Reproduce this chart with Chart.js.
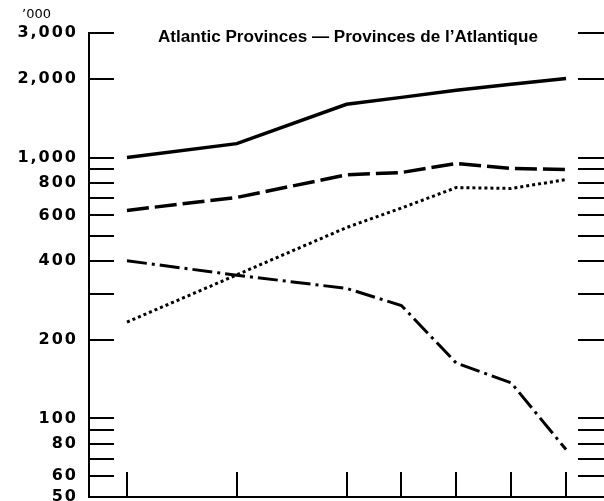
<!DOCTYPE html>
<html>
<head>
<meta charset="UTF-8">
<script src="https://cdn.jsdelivr.net/npm/chart.js@4.4.0/dist/chart.umd.min.js"></script>
<style>
    body { margin: 0; background: #fff; }
    canvas { display: block; }
</style>
</head>
<body>
<canvas id="myChart" width="604" height="501"></canvas>

<script>
    // census years along the bottom
    var years = [1931, 1941, 1951, 1956, 1961, 1966, 1971];

    // thousands
    var solidLine   = [1000, 1130, 1600, 1700, 1810, 1910, 2010];
    var dashedLine  = [627, 703, 858, 876, 948, 908, 900];
    var dottedLine  = [234, 355, 539, 640, 767, 761, 823];
    var dashDotLine = [402, 354, 315, 271, 163, 137, 76];

    var yTicks = [3000, 2000, 1000, 900, 800, 700, 600, 500, 400, 300, 200, 100, 90, 80, 70, 60, 50];
    var yLabels = {3000: '3,000', 2000: '2,000', 1000: '1,000', 800: '800', 600: '600',
                   400: '400', 200: '200', 100: '100', 80: '80', 60: '60', 50: '50'};

    var chartTitle = 'Atlantic Provinces \u2014 Provinces de l\u2019Atlantique';
    var unitLabel = '\u2019000';

    function toPoints(values) {
        return values.map(function (v, i) { return {x: years[i], y: v}; });
    }

    function lineSet(label, values, dash, width) {
        return {
            label: label,
            data: toPoints(values),
            borderColor: '#000',
            backgroundColor: '#000',
            borderWidth: width,
            borderDash: dash,
            borderCapStyle: 'butt',
            pointRadius: 0,
            tension: 0,
            fill: false
        };
    }

    // title and unit text, plus spaced-out tick digits
    var textPlugin = {
        id: 'textPlugin',
        beforeDraw: function (chart) {
            chart.ctx.letterSpacing = '2px';
        },
        afterDraw: function (chart) {
            var ctx = chart.ctx;
            ctx.save();
            ctx.letterSpacing = '0px';
            ctx.fillStyle = '#000';
            ctx.textAlign = 'left';
            ctx.textBaseline = 'alphabetic';
            ctx.font = 'bold 16px "Liberation Sans"';
            // the printed title face is wider, stretch to its width
            var w = ctx.measureText(chartTitle).width;
            ctx.save();
            ctx.translate(158, 42);
            ctx.scale(380 / w, 1);
            ctx.fillText(chartTitle, 0, 0);
            ctx.restore();
            ctx.font = '13px "DejaVu Sans"';
            ctx.fillText(unitLabel, 22, 18);
            ctx.restore();
            ctx.letterSpacing = '0px';
        }
    };

    var tickGrid = {drawOnChartArea: false, drawTicks: true, color: '#000', lineWidth: 2};

    var ctx = document.getElementById('myChart').getContext('2d');
    var chart = new Chart(ctx, {
        type: 'line',
        data: {
            datasets: [
                lineSet('solid', solidLine, [], 3.5),
                lineSet('dashed', dashedLine, [22, 6], 3.5),
                lineSet('dotted', dottedLine, [3, 3], 3),
                lineSet('dash-dot', dashDotLine, [20, 5, 3, 5], 3)
            ]
        },
        plugins: [textPlugin],
        options: {
            responsive: false,
            animation: false,
            layout: {padding: {top: 33, left: 0, right: 0, bottom: 0}},
            plugins: {
                legend: {display: false},
                tooltip: {enabled: false}
            },
            scales: {
                x: {
                    type: 'linear',
                    position: 'bottom',
                    min: 1927.54,
                    max: 1972.09,
                    afterBuildTicks: function (axis) {
                        axis.ticks = years.map(function (v) { return {value: v}; });
                    },
                    afterFit: function (axis) { axis.height = 4; },
                    ticks: {display: false},
                    grid: Object.assign({tickLength: -25}, tickGrid),
                    border: {display: true, color: '#000', width: 2}
                },
                y: {
                    type: 'logarithmic',
                    position: 'left',
                    min: 50,
                    max: 3000,
                    afterBuildTicks: function (axis) {
                        axis.ticks = yTicks.map(function (v) { return {value: v}; });
                    },
                    afterFit: function (axis) {
                        axis.width = 89;
                        axis.paddingTop = 0;
                        axis.paddingBottom = 0;
                    },
                    ticks: {
                        autoSkip: false,
                        padding: 36,
                        color: '#000',
                        font: {family: 'DejaVu Sans', size: 16, weight: 'bold'},
                        callback: function (v) { return yLabels[v] || ''; }
                    },
                    grid: Object.assign({tickLength: -25}, tickGrid),
                    border: {display: true, color: '#000', width: 2}
                },
                y2: {
                    type: 'logarithmic',
                    position: 'right',
                    min: 50,
                    max: 3000,
                    afterBuildTicks: function (axis) {
                        axis.ticks = yTicks.map(function (v) { return {value: v}; });
                    },
                    afterFit: function (axis) {
                        axis.width = 26;
                        axis.paddingTop = 0;
                        axis.paddingBottom = 0;
                    },
                    ticks: {display: false},
                    grid: Object.assign({tickLength: 26}, tickGrid),
                    border: {display: false}
                }
            }
        }
    });
</script>
</body>
</html>
